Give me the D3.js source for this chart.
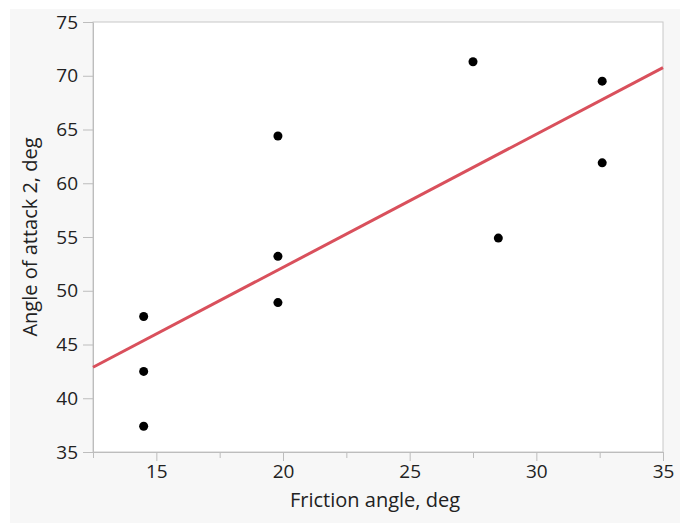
<!DOCTYPE html>
<html>
<head>
<meta charset="utf-8">
<script src="https://cdn.jsdelivr.net/npm/d3@7"></script>
<style>
    body { margin: 0; background: #fff; }
    .axis text { font-family: "Open Sans", "Noto Sans", sans-serif; font-size: 19px; fill: #222; }
    .axis path, .axis line { stroke: #bdbdbd; }
    .title { font-family: "Open Sans", "Noto Sans", sans-serif; font-size: 20px; fill: #222; }
</style>
</head>
<body>
<div id="chart"></div>
<script>
// friction angle (deg) vs angle of attack 2 (deg)
var frictionAngle = [14.5, 14.5, 14.5, 19.8, 19.8, 19.8, 27.5, 28.5, 32.6, 32.6];
var attackAngle = [47.6, 42.5, 37.4, 64.4, 53.2, 48.9, 71.3, 54.9, 69.5, 61.9];
var xTicks = [15, 20, 25, 30, 35];
var xMinorTicks = [12.5, 17.5, 22.5, 27.5, 32.5];
var yTicks = [35, 40, 45, 50, 55, 60, 65, 70, 75];

function init() {
    var w = 680;
    var h = 523;
    var left = 93, right = 663, top = 22, bottom = 452;

    var data = frictionAngle.map(function(x, i) { return { x: x, y: attackAngle[i] }; });

    var svg = d3.select("#chart").append("svg")
        .attr("width", w)
        .attr("height", h);

    // grey panel behind everything
    svg.append("rect")
        .attr("x", 10).attr("y", 9)
        .attr("width", w - 10).attr("height", h - 9)
        .attr("fill", "#f7f7f7");

    var xScale = d3.scaleLinear().domain([12.5, 35]).range([left, right]);
    var yScale = d3.scaleLinear().domain([35, 75]).range([bottom, top]);

    svg.append("rect")
        .attr("x", left).attr("y", top)
        .attr("width", right - left).attr("height", bottom - top)
        .attr("fill", "#fff")
        .attr("stroke", "#c8c8c8");

    // minor x ticks
    svg.append("g")
        .attr("class", "axis")
        .attr("transform", "translate(0," + bottom + ")")
        .call(d3.axisBottom(xScale).tickValues(xMinorTicks).tickSize(6).tickFormat("").tickSizeOuter(0))
        .select(".domain").remove();

    svg.append("g")
        .attr("class", "axis")
        .attr("transform", "translate(0," + bottom + ")")
        .call(d3.axisBottom(xScale).tickValues(xTicks).tickSize(9).tickPadding(4).tickSizeOuter(0));

    svg.append("g")
        .attr("class", "axis")
        .attr("transform", "translate(" + left + ",0)")
        .call(d3.axisLeft(yScale).tickValues(yTicks).tickSize(10).tickPadding(5).tickSizeOuter(0));

    // least squares fit
    var mx = d3.mean(data, d => d.x), my = d3.mean(data, d => d.y);
    var sxy = d3.sum(data, d => (d.x - mx) * (d.y - my));
    var sxx = d3.sum(data, d => (d.x - mx) * (d.x - mx));
    var slope = sxy / sxx, icpt = my - slope * mx;
    var fit = xScale.domain().map(x => ({ x: x, y: icpt + slope * x }));

    svg.append("path")
        .datum(fit)
        .attr("fill", "none")
        .attr("stroke", "#d9505c")
        .attr("stroke-width", 3)
        .attr("d", d3.line().x(d => xScale(d.x)).y(d => yScale(d.y)));

    svg.selectAll("circle")
        .data(data)
        .enter().append("circle")
        .attr("cx", d => xScale(d.x))
        .attr("cy", d => yScale(d.y))
        .attr("r", 4.5)
        .attr("fill", "#000");

    svg.append("text")
        .attr("class", "title")
        .attr("x", (left + right) / 2 - 3)
        .attr("y", 507)
        .attr("text-anchor", "middle")
        .text("Friction angle, deg");

    svg.append("text")
        .attr("class", "title")
        .attr("transform", "translate(37,237) rotate(-90)")
        .attr("text-anchor", "middle")
        .text("Angle of attack 2, deg");
}
window.onload = init;
</script>
</body>
</html>
